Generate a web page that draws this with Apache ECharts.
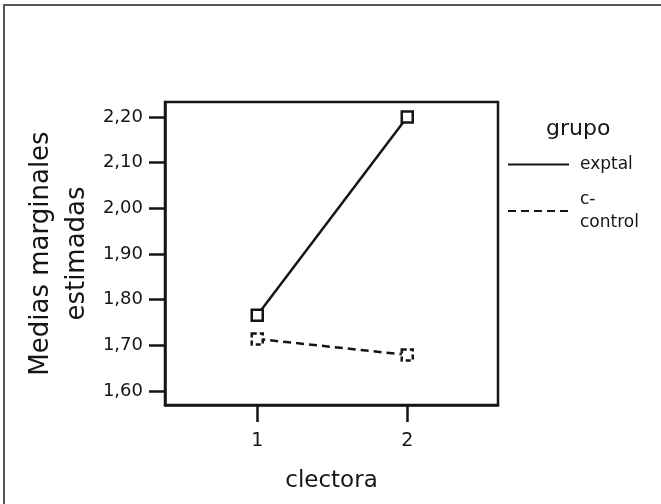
<!DOCTYPE html>
<html>
<head>
<meta charset="utf-8">
<script src="https://cdn.jsdelivr.net/npm/echarts@6/dist/echarts.min.js"></script>
<style>
html,body{margin:0;padding:0;background:#fff;}
#chart{width:661px;height:504px;}
</style>
</head>
<body>
<div id="chart"></div>
<script>
// Data
var xValues = [1, 2];
var xTickLabels = ['1', '2'];
var seriesNames = ['exptal', 'c-\ncontrol'];
var exptalValues = [1.766, 2.200];
var controlValues = [1.714, 1.679];
var yTicks = [1.60, 1.70, 1.80, 1.90, 2.00, 2.10, 2.20];

var FONT = 'DejaVu Sans';
var INK = '#151515';

function pairs(xs, ys) {
  return xs.map(function (x, i) { return [x, ys[i]]; });
}

var chart = echarts.init(document.getElementById('chart'), null, { renderer: 'canvas' });
chart.setOption({
  backgroundColor: '#ffffff',
  animation: false,
  textStyle: { fontFamily: FONT, color: INK },
  graphic: [{
    type: 'rect',
    shape: { x: 4, y: 5, width: 700, height: 560 },
    style: { fill: 'none', stroke: '#555', lineWidth: 2 },
    silent: true
  }],
  title: {
    text: 'grupo',
    left: 546,
    top: 118,
    padding: 0,
    textStyle: { fontFamily: FONT, fontSize: 22, fontWeight: 'normal', color: INK }
  },
  legend: {
    orient: 'vertical',
    left: 507,
    top: 153,
    padding: 0,
    itemWidth: 61,
    itemHeight: 14,
    itemGap: 12,
    itemStyle: { opacity: 0 },
    textStyle: { fontFamily: FONT, fontSize: 17, color: INK, lineHeight: 23, padding: [0, 0, 0, 6] },
    data: seriesNames
  },
  grid: {
    left: 165, top: 102, width: 333, height: 303,
    outerBoundsMode: 'none',
    containLabel: false,
    show: true, borderColor: INK, borderWidth: 2.5, backgroundColor: 'transparent'
  },
  xAxis: {
    type: 'value',
    min: 0.385, max: 2.605,
    name: 'clectora',
    nameLocation: 'middle',
    nameGap: 65,
    nameMoveOverlap: false,
    nameTextStyle: { fontFamily: FONT, fontSize: 23, color: INK },
    splitLine: { show: false },
    axisLine: { show: true, lineStyle: { color: INK, width: 2.5 } },
    axisTick: { show: true, length: 17, lineStyle: { color: INK, width: 2.5 }, customValues: xValues },
    axisLabel: {
      fontFamily: FONT, fontSize: 19, color: INK, margin: 27,
      customValues: xValues,
      formatter: function (v) { var i = xValues.indexOf(v); return i >= 0 ? xTickLabels[i] : ''; }
    }
  },
  yAxis: {
    type: 'value',
    min: 1.5694, max: 2.2328,
    name: 'Medias marginales\nestimadas',
    nameLocation: 'middle',
    nameGap: 70,
    nameRotate: 90,
    nameMoveOverlap: false,
    nameTextStyle: { fontFamily: FONT, fontSize: 26, color: INK, lineHeight: 36 },
    splitLine: { show: false },
    axisLine: { show: true, lineStyle: { color: INK, width: 2.5 } },
    axisTick: { show: true, length: 16, lineStyle: { color: INK, width: 2.5 }, customValues: yTicks },
    axisLabel: {
      fontFamily: FONT, fontSize: 18, color: INK, margin: 22,
      customValues: yTicks,
      formatter: function (v) { return v.toFixed(2).replace('.', ','); }
    }
  },
  series: [{
    name: seriesNames[0],
    type: 'line',
    data: pairs(xValues, exptalValues),
    symbol: 'rect',
    symbolSize: 11,
    lineStyle: { color: INK, width: 2.5, type: 'solid' },
    itemStyle: { color: '#fff', borderColor: INK, borderWidth: 2.5 },
    z: 3
  }, {
    name: seriesNames[1],
    type: 'line',
    data: pairs(xValues, controlValues),
    symbol: 'rect',
    symbolSize: 11,
    lineStyle: { color: INK, width: 2.5, type: [8, 5] },
    itemStyle: { color: '#fff', borderColor: INK, borderWidth: 2.5, borderType: [5, 3] },
    z: 3
  }]
});
</script>
</body>
</html>
